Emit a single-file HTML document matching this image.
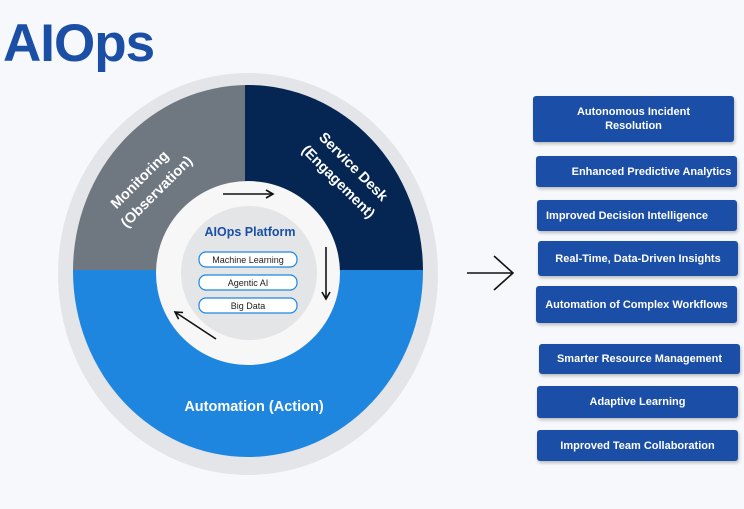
<!DOCTYPE html>
<html><head><meta charset="utf-8"><style>
body{margin:0;width:744px;height:509px;background:#f6f8fb;overflow:hidden;position:relative;font-family:"Liberation Sans",sans-serif}
.t{position:absolute;left:3px;top:13px;font-size:53px;font-weight:bold;color:#1b4fa6;letter-spacing:-1px}
.b{position:absolute;background:#1b4ea6;color:#fff;font-weight:bold;font-size:11px;display:flex;align-items:center;justify-content:center;text-align:center;border-radius:3px;box-shadow:1px 2px 3px rgba(0,0,0,.25);line-height:14px;white-space:nowrap}
</style></head><body>
<div class="t">AIOps</div>
<svg width="744" height="509" style="position:absolute;left:0;top:0">
<defs><clipPath id="c"><ellipse cx="248" cy="271" rx="175" ry="186"/></clipPath>
<marker id="m" markerWidth="10" markerHeight="10" refX="8" refY="5" orient="auto" markerUnits="userSpaceOnUse"><path d="M1,1 L8,5 L1,9" fill="none" stroke="#111" stroke-width="1.6"/></marker></defs>
<ellipse cx="248" cy="274" rx="190" ry="201" fill="#e3e5e8"/>
<g clip-path="url(#c)">
<rect x="60" y="80" width="185" height="190" fill="#6f7780"/>
<rect x="245" y="80" width="190" height="190" fill="#052653"/>
<rect x="60" y="270" width="380" height="200" fill="#1f86e0"/>
</g>
<ellipse cx="248" cy="273" rx="92" ry="92" fill="#f7f7f7"/>
<ellipse cx="249" cy="273" rx="68" ry="67" fill="#e4e5e7"/>
<text x="250" y="236" text-anchor="middle" font-size="12.5" font-weight="bold" fill="#1b4fa6">AIOps Platform</text>
<g font-size="9" fill="#222" text-anchor="middle">
<rect x="199" y="252" width="98" height="15" rx="7" fill="#fff" stroke="#1f86e0" stroke-width="1.2"/><text x="248" y="263">Machine Learning</text>
<rect x="199" y="275" width="98" height="15" rx="7" fill="#fff" stroke="#1f86e0" stroke-width="1.2"/><text x="248" y="286">Agentic AI</text>
<rect x="199" y="298" width="98" height="15" rx="7" fill="#fff" stroke="#1f86e0" stroke-width="1.2"/><text x="248" y="309">Big Data</text>
</g>
<line x1="223" y1="194" x2="273" y2="194" stroke="#111" stroke-width="1.6" marker-end="url(#m)"/>
<line x1="326" y1="247" x2="326" y2="299" stroke="#111" stroke-width="1.6" marker-end="url(#m)"/>
<line x1="216" y1="339" x2="175" y2="312" stroke="#111" stroke-width="1.6" marker-end="url(#m)"/>
<g fill="#fff" font-weight="bold" font-size="14.5" text-anchor="middle">
<text transform="translate(143,183) rotate(-45)">Monitoring</text>
<text transform="translate(160,195) rotate(-45)">(Observation)</text>
<text transform="translate(350,170) rotate(45)">Service Desk</text>
<text transform="translate(335,185) rotate(45)">(Engagement)</text>
<text x="254" y="411">Automation (Action)</text>
</g>
<line x1="467" y1="273" x2="512" y2="273" stroke="#111" stroke-width="1.6"/>
<path d="M494,256 L513,273 L494,290" fill="none" stroke="#111" stroke-width="1.6"/>
</svg>
<div class="b" style="left:533px;top:96px;width:201px;height:46px">Autonomous Incident<br>Resolution</div>
<div class="b" style="left:536px;top:156px;width:201px;height:31px;padding-left:30px;box-sizing:border-box">Enhanced Predictive Analytics</div>
<div class="b" style="left:537px;top:200px;width:200px;height:31px;padding-right:20px;box-sizing:border-box">Improved Decision Intelligence</div>
<div class="b" style="left:538px;top:241px;width:200px;height:35px">Real-Time, Data-Driven Insights</div>
<div class="b" style="left:536px;top:286px;width:201px;height:37px">Automation of Complex Workflows</div>
<div class="b" style="left:539px;top:344px;width:201px;height:30px">Smarter Resource Management</div>
<div class="b" style="left:537px;top:386px;width:201px;height:32px">Adaptive Learning</div>
<div class="b" style="left:537px;top:430px;width:201px;height:31px">Improved Team Collaboration</div>
</body></html>
